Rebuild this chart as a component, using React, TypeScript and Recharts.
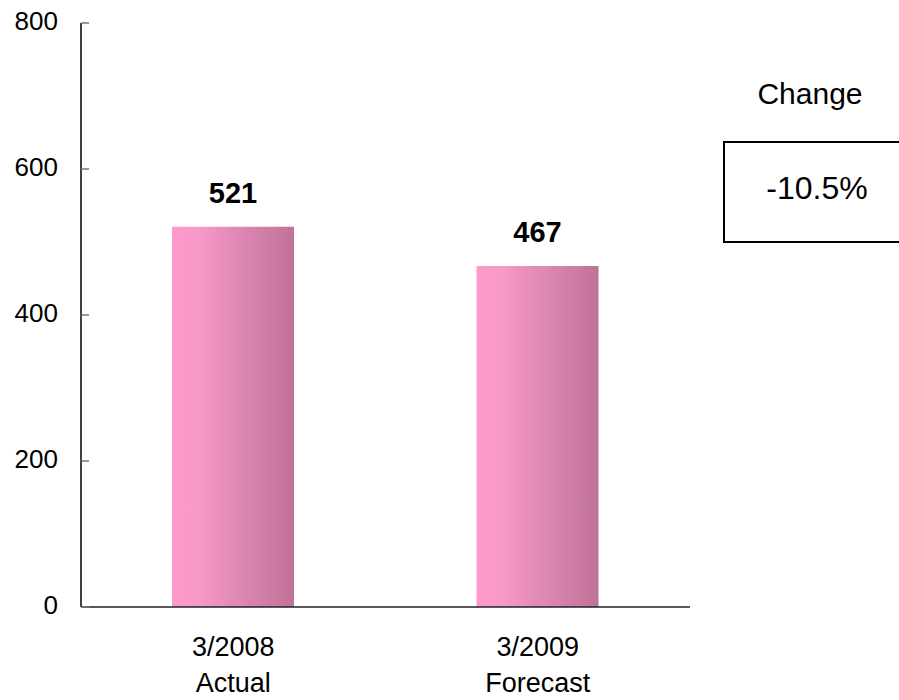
import { BarChart, Bar, XAxis, YAxis, LabelList } from 'recharts';

const periods = ['3/2008', '3/2009'];
const periodKinds = ['Actual', 'Forecast'];
const units = [521, 467];
const yTicks = [0, 200, 400, 600, 800];
const changeLabel = 'Change';
const changeValue = '-10.5%';

const data = periods.map((p, i) => ({ period: p, kind: periodKinds[i], units: units[i] }));

const FONT = '"Liberation Sans", Arial, sans-serif';

function PeriodTick(props: any) {
  const { x, y, payload, index } = props;
  return (
    <g transform={`translate(${x},${y})`}>
      <text textAnchor="middle" fontFamily={FONT} fontSize={27} fill="#000">
        <tspan x={0} dy={41}>{payload.value}</tspan>
        <tspan x={0} dy={36}>{periodKinds[index]}</tspan>
      </text>
    </g>
  );
}

export default function App() {
  return (
    <div style={{ position: 'absolute', left: 0, top: 0, width: 899, height: 700, background: '#fff', fontFamily: FONT }}>
      <BarChart
        width={899}
        height={700}
        data={data}
        margin={{ top: 23, right: 209, bottom: 0, left: 0 }}
        barCategoryGap={0}
      >
        <defs>
          <linearGradient id="barFill" x1="0" y1="0" x2="1" y2="0">
            <stop offset="0%" stopColor="#FC9ACC" />
            <stop offset="20%" stopColor="#F899C9" />
            <stop offset="60%" stopColor="#DB86B2" />
            <stop offset="100%" stopColor="#C07297" />
          </linearGradient>
        </defs>
        <XAxis
          dataKey="period"
          height={93}
          tickLine={false}
          axisLine={{ stroke: '#222', strokeWidth: 1.5 }}
          tick={<PeriodTick />}
          interval={0}
        />
        <YAxis
          width={81}
          domain={[0, 800]}
          ticks={yTicks}
          tickSize={-8}
          tickMargin={31}
          tickLine={{ stroke: '#777', strokeWidth: 1.5 }}
          axisLine={{ stroke: '#000', strokeWidth: 1.5 }}
          tick={{ fill: '#000', fontSize: 26, fontFamily: FONT, dy: -2 }}
        />
        <Bar dataKey="units" fill="url(#barFill)" barSize={122} isAnimationActive={false}>
          <LabelList
            dataKey="units"
            position="top"
            offset={24}
            fill="#000"
            fontSize={29}
            fontWeight="bold"
            fontFamily={FONT}
          />
        </Bar>
      </BarChart>
      <div style={{ position: 'absolute', left: 700, top: 74, width: 220, textAlign: 'center', fontSize: 30, lineHeight: '40px' }}>
        {changeLabel}
      </div>
      <div
        style={{
          position: 'absolute',
          left: 723,
          top: 141,
          width: 200,
          height: 102,
          border: '2px solid #000',
          boxSizing: 'border-box',
        }}
      />
      <div style={{ position: 'absolute', left: 707, top: 168, width: 220, textAlign: 'center', fontSize: 32, lineHeight: '40px' }}>
        {changeValue}
      </div>
    </div>
  );
}
